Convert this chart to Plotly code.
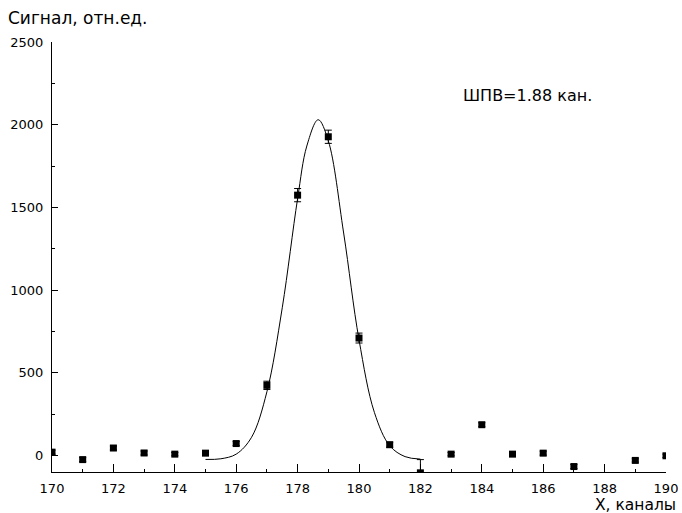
import plotly.graph_objects as go

# Measured channel signal with uncertainties
channels = [170, 171, 172, 173, 174, 175, 176, 177, 178, 179, 180, 181, 182,
            183, 184, 185, 186, 187, 189, 190]
signal = [20, -25, 45, 15, 8, 14, 72, 424, 1574, 1927, 710, 65, -105,
          8, 186, 8, 14, -67, -30, -2]
signal_err = [12, 12, 12, 12, 10, 10, 12, 25, 40, 40, 30, 15, 80,
              10, 12, 12, 12, 12, 10, 10]

# Fitted peak profile
fit_x = [175.0, 175.5, 176.0, 176.5, 177.0, 177.5, 178.0, 178.3, 178.67,
         179.0, 179.5, 180.0, 180.5, 181.0, 181.5, 182.0]
fit_y = [-24, -20, 8, 110, 385, 893, 1553, 1871, 2030,
         1903, 1345, 700, 261, 59, -7, -22]

x_ticks = [170, 172, 174, 176, 178, 180, 182, 184, 186, 188, 190]
y_ticks = [0, 500, 1000, 1500, 2000, 2500]

fig = go.Figure()
fig.add_trace(go.Scatter(
    x=fit_x, y=fit_y, mode="lines",
    line=dict(color="black", width=1, shape="spline", smoothing=1.0),
    hoverinfo="skip",
))
fig.add_trace(go.Scatter(
    x=channels, y=signal, mode="markers",
    marker=dict(symbol="square", size=7, color="black"),
    error_y=dict(type="data", array=signal_err, color="black",
                 thickness=1, width=3.5),
))

tick_font = dict(family="DejaVu Sans", size=13, color="black")
fig.update_layout(
    width=682, height=513,
    margin=dict(l=52, r=16, t=42, b=41, autoexpand=False),
    paper_bgcolor="white", plot_bgcolor="white",
    showlegend=False,
    xaxis=dict(
        range=[170, 190], tickvals=x_ticks, ticks="inside", ticklen=8,
        tickcolor="black", showline=True, linecolor="black", linewidth=1,
        showgrid=False, zeroline=False, tickfont=tick_font,
        ticklabelstandoff=4, automargin=False,
        minor=dict(dtick=1, ticks="inside", ticklen=3, tickcolor="black"),
    ),
    yaxis=dict(
        range=[-100, 2500], tickvals=y_ticks, ticks="inside", ticklen=6,
        tickcolor="black", showline=True, linecolor="black", linewidth=1,
        showgrid=False, zeroline=False, tickfont=tick_font,
        ticklabelstandoff=5, automargin=False,
        minor=dict(dtick=250, ticks="inside", ticklen=3, tickcolor="black"),
    ),
    annotations=[
        dict(text="Сигнал, отн.ед.", xref="paper", yref="paper",
             x=-46 / 614, y=1 + 24 / 430, xanchor="left", yanchor="middle",
             showarrow=False,
             font=dict(family="DejaVu Sans", size=17, color="black")),
        dict(text="Х, каналы", xref="paper", yref="paper",
             x=1 + 12 / 614, y=-33 / 430, xanchor="right", yanchor="middle",
             showarrow=False,
             font=dict(family="DejaVu Sans", size=15.5, color="black")),
        dict(text="ШПВ=1.88 кан.", xref="paper", yref="paper",
             x=409 / 614, y=1 - 53 / 430, xanchor="left", yanchor="middle",
             showarrow=False,
             font=dict(family="DejaVu Sans", size=16, color="black")),
    ],
)

fig.write_html("out.html")
